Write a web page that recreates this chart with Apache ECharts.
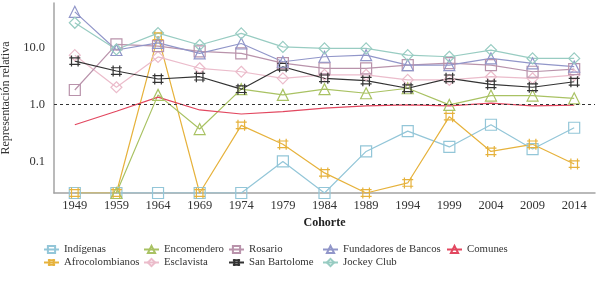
<!DOCTYPE html>
<html>
<head>
<meta charset="utf-8">
<script src="https://cdn.jsdelivr.net/npm/echarts@6/dist/echarts.min.js"></script>
<style>
  html, body { margin: 0; padding: 0; background: #fff; }
  #chart { width: 603px; height: 282px; }
</style>
</head>
<body>
<div id="chart"></div>
<script>
// cohortes
var years = ["1949", "1959", "1964", "1969", "1974", "1979", "1984", "1989", "1994", "1999", "2004", "2009", "2014"];

// representación relativa (0 = sin representación, se dibuja en el piso del eje)
var indigenas = [0, 0, 0, 0, 0, 0.10, 0, 0.15, 0.34, 0.18, 0.44, 0.165, 0.39];
var afrocolombianos = [0, 0, 15.7, 0, 0.43, 0.20, 0.063, 0, 0.042, 0.61, 0.15, 0.20, 0.09];
var encomendero = [null, 0, 1.47, 0.37, 1.85, 1.47, 1.85, 1.57, 1.92, 0.98, 1.43, 1.43, 1.28];
var esclavista = [7.3, 2.0, 6.8, 4.3, 3.74, 2.87, 3.3, 3.3, 2.7, 2.7, 3.06, 2.87, 3.27];
var rosario = [1.79, 11.3, 10.5, 8.5, 7.85, 5.3, 4.3, 4.3, 4.9, 5.3, 4.9, 3.74, 4.17];
var sanBartolome = [5.75, 3.85, 2.79, 3.06, 1.85, 4.58, 2.87, 2.61, 1.92, 2.87, 2.25, 2.0, 2.5];
var fundadores = [42, 9.0, 12, 7.85, 11.7, 5.6, 6.85, 7.3, 4.9, 4.9, 6.4, 5.25, 4.6];
var jockeyClub = [27, 9.2, 17.8, 11, 17.6, 10.2, 9.6, 9.6, 7.3, 6.85, 8.97, 6.4, 6.4];
var comunes = [0.44, 0.76, 1.34, 0.80, 0.68, 0.75, 0.86, 0.94, 0.98, 0.94, 1.05, 0.94, 0.97];

var yTicks = [0.1, 1, 10];

var FLOOR = 0.028;
var hash = "path://M0,2H10M0,8H10M2,0V10M8,0V10";
var font = "Liberation Serif";

var chart = echarts.init(document.getElementById("chart"));

function mk(name, data, color, symbol) {
  return {
    name: name,
    type: "line",
    data: data.map(function (v) {
      return v === null ? null : (v === 0 ? FLOOR : v);
    }),
    symbol: symbol,
    symbolSize: 11,
    lineStyle: { color: color, width: 1.2 },
    itemStyle: { color: "rgba(255,255,255,0)", borderColor: color, borderWidth: 1.2 },
    emphasis: { disabled: true },
    animation: false,
  };
}

var series = [
  mk("Indígenas", indigenas, "#93c6d8", "rect"),
  mk("Afrocolombianos", afrocolombianos, "#e6b23c", hash),
  mk("Encomendero", encomendero, "#a9c263", "triangle"),
  mk("Esclavista", esclavista, "#ebbccb", "diamond"),
  mk("Rosario", rosario, "#b993ab", "rect"),
  mk("San Bartolome", sanBartolome, "#333333", hash),
  mk("Fundadores de Bancos", fundadores, "#9196c9", "triangle"),
  mk("Jockey Club", jockeyClub, "#98ccc2", "diamond"),
  mk("Comunes", comunes, "#e2475f", "triangle"),
];
series[8].showSymbol = false;
series[8].markLine = {
  silent: true,
  symbol: "none",
  label: { show: false },
  lineStyle: { color: "#333", type: [3, 3], width: 1 },
  data: [{ yAxis: 1 }],
};

function legendCol(left, names) {
  return {
    left: left,
    top: 239,
    orient: "vertical",
    itemWidth: 15,
    itemHeight: 9,
    itemGap: 2,
    data: names,
    textStyle: { fontFamily: font, fontSize: 10.8, color: "#333" },
  };
}

var option = {
  backgroundColor: "#fff",
  grid: { left: 54, right: 8, top: 3, bottom: 89, outerBoundsMode: "none" },
  legend: [
    legendCol(38, ["Indígenas", "Afrocolombianos"]),
    legendCol(138, ["Encomendero", "Esclavista"]),
    legendCol(223, ["Rosario", "San Bartolome"]),
    legendCol(317, ["Fundadores de Bancos", "Jockey Club"]),
    legendCol(441, ["Comunes"]),
  ],
  xAxis: {
    type: "category",
    data: years,
    boundaryGap: true,
    name: "Cohorte",
    nameLocation: "middle",
    nameGap: 23,
    nameTextStyle: { fontFamily: font, fontSize: 12, fontWeight: "bold", color: "#222" },
    axisLine: { lineStyle: { color: "#a3a3a3", width: 1.5 } },
    axisTick: { show: false },
    axisLabel: { fontFamily: font, fontSize: 12.5, color: "#333", margin: 6, interval: 0 },
    splitLine: { show: false },
  },
  yAxis: {
    type: "log",
    logBase: 10,
    min: FLOOR,
    max: 60,
    name: "Representación relativa",
    nameLocation: "middle",
    nameGap: 41,
    nameTextStyle: { fontFamily: font, fontSize: 12, color: "#333" },
    axisLine: { show: true, lineStyle: { color: "#a3a3a3", width: 1.5 } },
    axisTick: { show: false },
    splitLine: { show: false },
    axisLabel: {
      fontFamily: font,
      fontSize: 12.5,
      color: "#333",
      margin: 9,
      showMinLabel: false,
      showMaxLabel: false,
      formatter: function (v) {
        for (var i = 0; i < yTicks.length; i++) {
          if (Math.abs(v - yTicks[i]) < yTicks[i] * 1e-6) return yTicks[i].toFixed(1);
        }
        return "";
      },
    },
  },
  series: series,
};

chart.setOption(option);
window.addEventListener("resize", function () {
  chart.resize();
});
</script>
</body>
</html>
